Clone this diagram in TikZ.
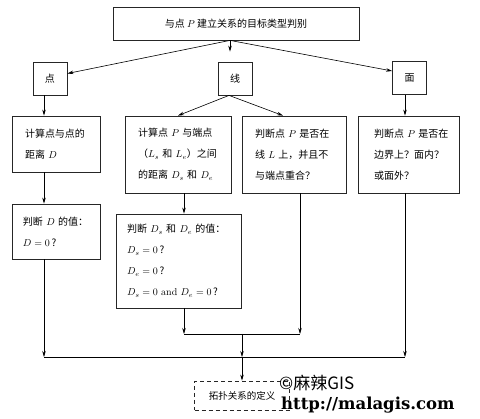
\documentclass[tikz,border=0pt]{standalone}
\usepackage{fontspec}
\usepackage{amsmath}
\newfontfamily\cjk{Noto Sans CJK SC}
\newfontfamily\urlfont{DejaVu Serif}
\usetikzlibrary{arrows.meta}

\begin{document}
\begin{tikzpicture}[x=1pt,y=-1pt,
    box/.style={draw=black!85, line width=0.8pt, align=left, inner ysep=0pt,
      font=\cjk\fontsize{10}{21}\selectfont},
    tag/.style={box, align=center, minimum width=34pt, minimum height=33pt, inner sep=0pt},
    arr/.style={-{Stealth[length=6pt,width=3.5pt]}, line width=0.6pt},
    wire/.style={line width=0.6pt}]
  \useasboundingbox (0,0) rectangle (480,419);

  % Top question
  \node[box, align=center, minimum width=246pt, minimum height=33pt] (top) at (236,23.5)
    {与点~$P$~建立关系的目标类型判别};

  % Target types
  \node[tag] (pt) at (50,78.5) {点};
  \node[tag] (line) at (235,78.5) {线};
  \node[tag] (face) at (409.5,78) {面};

  % Second row
  \node[box, text width=62pt, inner xsep=13pt, minimum height=56pt] (d1) at (56,144)
    {计算点与点的\\距离~$D$};
  \node[box, text width=80pt, inner xsep=13pt, minimum height=77pt] (d2) at (178,154.5)
    {计算点~$P$~与端点\\（$L_s$~和~$L_e$）之间\\的距离~$D_s$~和~$D_e$};
  \node[box, text width=78pt, inner xsep=13pt, minimum height=77pt] (d3) at (294,154.5)
    {判断点~$P$~是否在\\线~$L$~上，并且不\\与端点重合？};
  \node[box, text width=75pt, inner xsep=13pt, minimum height=77pt] (d4) at (408.5,154.5)
    {\hspace*{3pt}判断点~$P$~是否在\\\hspace*{3pt}边界上？面内？\\\hspace*{3pt}或面外？};

  % Third row
  \node[box, text width=66pt, inner xsep=11pt, minimum height=55pt] (j1) at (56,231.5)
    {判断~$D$~的值：\\$D=0$\,?};
  \node[box, text width=103pt, inner xsep=11pt, minimum height=94pt] (j2) at (178.5,261)
    {判断~$D_s$~和~$D_e$~的值：\\$D_s=0$\,?\\$D_e=0$\,?\\$D_s=0$~\textrm{and}~$D_e=0$\,?};

  % Result
  \node[box, align=center, dash pattern=on 4pt off 3pt, minimum width=95pt, minimum height=29pt,
    font=\cjk\fontsize{9.5}{12}\selectfont] (def) at (242,395.5) {拓扑关系的定义};

  % Arrows from the top
  \coordinate (tb) at ([xshift=-6pt]top.south);
  \draw[arr] (tb) -- ([yshift=5pt]pt.east);
  \draw[arr, shorten >=10pt] (tb) -- (tb |- line.north);
  \draw[arr] (tb) -- ([yshift=7pt]face.west);

  % Arrows to the second row
  \draw[arr] ([xshift=-6pt]pt.south) -- ([xshift=-6pt]pt.south |- d1.north);
  \draw[arr] ([xshift=-6pt]line.south) -- (d2.north);
  \draw[arr] ([xshift=-6pt]line.south) -- ([xshift=-11pt]d3.north);
  \draw[arr] ([xshift=-4.5pt]face.south) -- ([xshift=-4.5pt]face.south |- d4.north);

  % Arrows to the third row
  \draw[arr] ([xshift=-12pt]d1.south) -- ([xshift=-12pt]d1.south |- j1.north);
  \draw[arr] ([xshift=6pt]d2.south) -- ([xshift=6pt]d2.south |- j2.north);

  % Joining lines
  \coordinate (m1) at (242,334);
  \coordinate (m2) at (242,357);
  \draw[arr] ([xshift=5.5pt]j2.south) -- ([xshift=5.5pt]j2.south |- m1);
  \draw[arr] ([xshift=6pt]d3.south) -- ([xshift=6pt]d3.south |- m1);
  \draw[wire] ([xshift=5.5pt]j2.south |- m1) -- ([xshift=6pt]d3.south |- m1);
  \draw[arr] (m1) -- (m2);
  \draw[arr] ([xshift=-12pt]j1.south) -- ([xshift=-12pt]j1.south |- m2);
  \draw[arr] ([xshift=-3.5pt]d4.south) -- ([xshift=-3.5pt]d4.south |- m2);
  \draw[wire] ([xshift=-12pt]j1.south |- m2) -- ([xshift=-3.5pt]d4.south |- m2);
  \draw[arr] (m2) -- (def.north);

  % Watermark
  \node[anchor=west, inner sep=0pt, font=\cjk\fontsize{17}{17}\selectfont] (wm1) at (279,383)
    {©麻辣GIS};
  \node[anchor=west, inner sep=0pt, font=\urlfont\bfseries\fontsize{16.5}{16.5}\selectfont] (wm2)
    at (281,405) {http://malagis.com};
\end{tikzpicture}
\end{document}
